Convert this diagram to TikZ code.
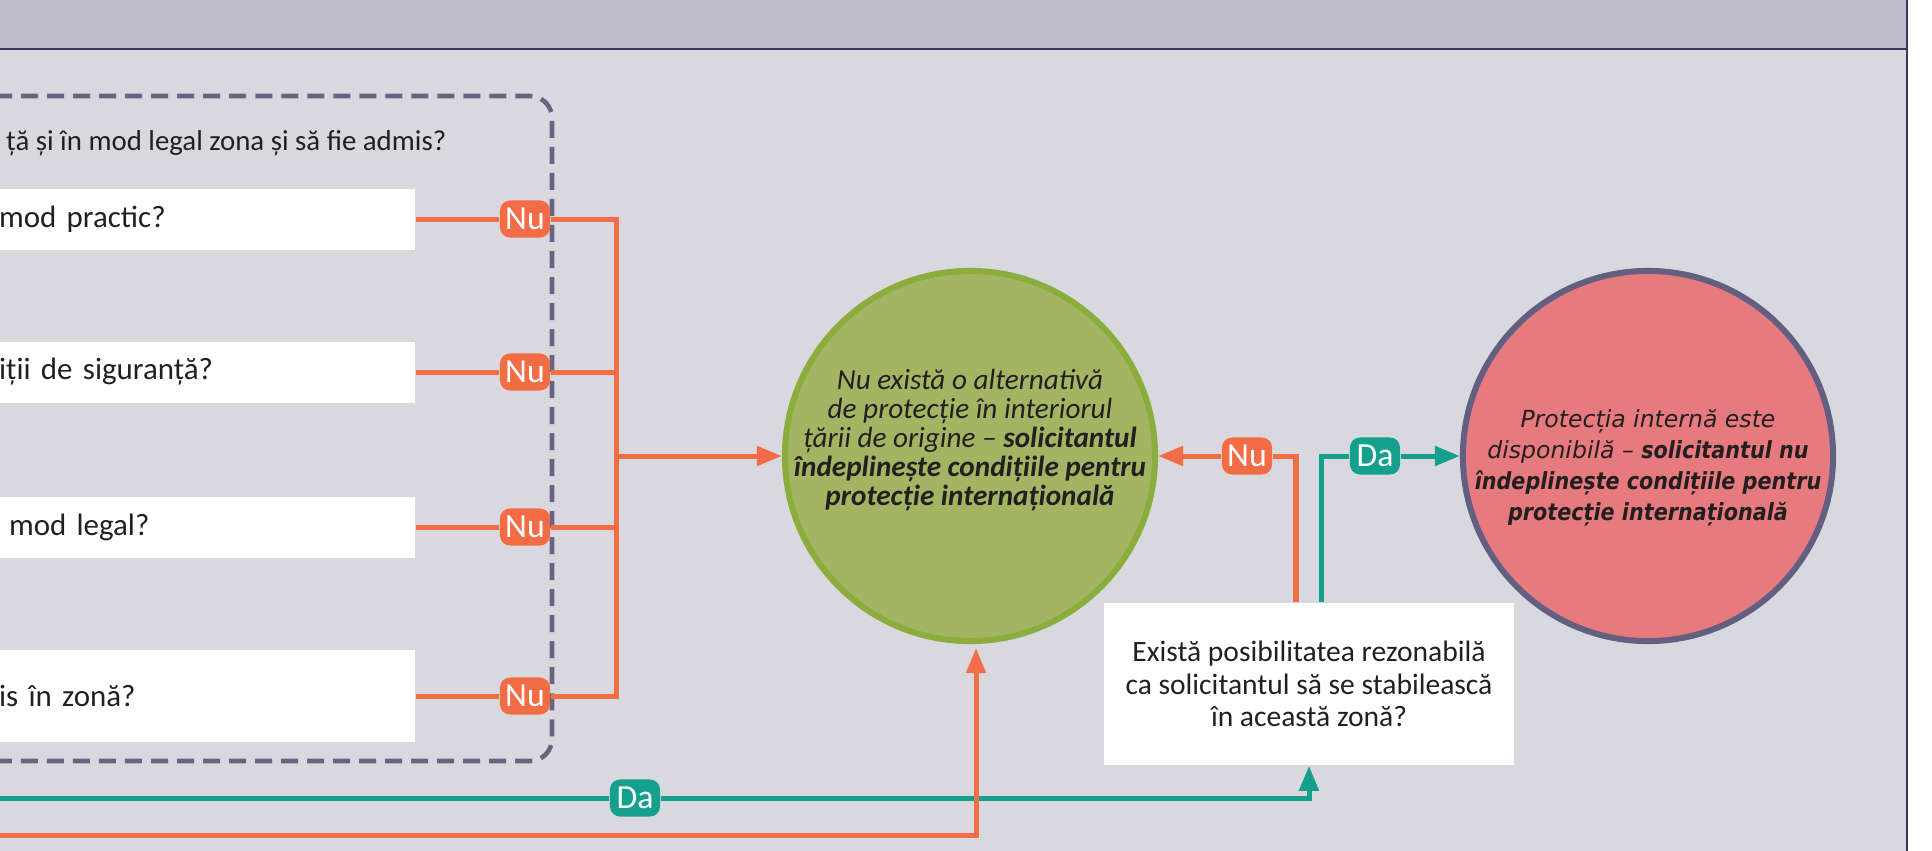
\documentclass[tikz,border=0pt]{standalone}
\usepackage{fontspec}
\setmainfont{Carlito}
\newfontfamily\widesans{DejaVu Sans}[BoldItalicFeatures={FakeStretch=0.88}]
\usetikzlibrary{arrows.meta}
\definecolor{headbg}{HTML}{BEBBCA}
\definecolor{bodybg}{HTML}{D9D8DF}
\definecolor{framec}{HTML}{3A3760}
\definecolor{dashc}{HTML}{666480}
\definecolor{nuorange}{HTML}{F26C45}
\definecolor{dateal}{HTML}{14A08C}
\definecolor{okgreen}{HTML}{A3B562}
\definecolor{okborder}{HTML}{8AAD3E}
\definecolor{nored}{HTML}{E77A7E}
\definecolor{noborder}{HTML}{626080}
\definecolor{ink}{HTML}{231F20}
\begin{document}
\begin{tikzpicture}[x=0.01cm, y=-0.01cm, text=ink,
  qbox/.style={fill=white, inner xsep=0pt, font=\fontsize{8.8}{10.5}\selectfont},
  badge/.style={fill=nuorange, text=white, rounded corners=0.1cm, minimum width=0.5cm, minimum height=0.37cm, inner sep=0pt, font=\fontsize{9.6}{10}\selectfont},
  dabadge/.style={badge, fill=dateal},
  nuline/.style={draw=nuorange, line width=0.05cm},
  daline/.style={draw=dateal, line width=0.05cm},
  arr/.style={-{Triangle[length=0.25cm, width=0.19cm]}},
  verdict/.style={circle, minimum size=3.70cm, line width=0.06cm}]
\useasboundingbox (0,0) rectangle (1932,851);
\clip (0,0) rectangle (1932,851);
\fill[bodybg] (-10,0) rectangle (1907,900);
\fill[headbg] (-10,0) rectangle (1907,49);
\draw[framec, line width=0.02cm] (-10,49) -- (1907,49) (1907,0) -- (1907,900);
\draw[dashc, line width=0.046cm, dash pattern=on 0.17cm off 0.09cm, rounded corners=0.22cm] (-100,96) rectangle (552,761);

\node[anchor=east, inner sep=0pt, font=\fontsize{8.2}{10.5}\selectfont] (reach) at (447,143) {ță și în mod legal zona și să fie admis?};

\foreach \y/\h/\t [count=\i] in {219/61/mod practic?, 372/61/iții de siguranță?, 527/61/{\hspace{0.1cm}mod legal?}, 696/92/is în zonă?}
{
\node[qbox, anchor=east, text width=4.16cm, align=left, minimum height=\h*0.01cm] (q\i) at (416,\y) {\t};
\node[badge] (n\i) at (525,\y) {Nu};
\coordinate (b\i) at (616,\y);
\draw[nuline] (q\i.east) -- (n\i.west);
}
\draw[nuline] (n1.east) -- (b1) -- (b4) -- (n4.east);
\draw[nuline] (n2.east) -- (b2) (n3.east) -- (b3);
\coordinate (bm) at (616,456);

\node[verdict, fill=okgreen, draw=okborder] (ok) at (970,456) {};
\node[align=center, font=\fontsize{8.3}{8.3}\selectfont\itshape] (oktext) at ([yshift=0.16cm]ok.center) {Nu există o alternativă\\ de protecție în interiorul\\ țării de origine – \textbf{solicitantul}\\ \textbf{îndeplinește condițiile pentru}\\ \textbf{protecție internațională}};
\node[verdict, fill=nored, draw=noborder] (no) at (1648,456) {};
\node[align=center, font=\fontsize{6.7}{8.8}\widesans\itshape] (notext) at ([yshift=-0.12cm]no.center) {Protecția internă este\\ disponibilă – \textbf{solicitantul nu}\\ \textbf{îndeplinește condițiile pentru}\\ \textbf{protecție internațională}};

\node[qbox, inner xsep=0.1cm, minimum width=4.1cm, minimum height=1.62cm, align=center, font=\fontsize{8.4}{9.3}\selectfont] (settle) at (1309,684) {Există posibilitatea rezonabilă\\ ca solicitantul să se stabilească\\ în această zonă?};

\draw[nuline, arr] (bm) -- (ok.west);

\node[badge] (nuB) at (1247,456) {Nu};
\node[dabadge] (daB) at (1375,456) {Da};
\draw[nuline] ([xshift=-0.13cm]settle.north) |- (nuB.east);
\draw[nuline, arr] (nuB.west) -- (ok.east);
\draw[daline] ([xshift=0.12cm]settle.north) |- (daB.west);
\draw[daline, arr] (daB.east) -- (no.west);

\coordinate (dain) at (-10,798);
\coordinate (nuin) at (-10,835);
\node[dabadge] (daC) at (635,798) {Da};
\draw[daline] (dain) -- (daC.west);
\draw[daline, arr] (daC.east) -| (settle.south);
\draw[nuline, arr] (nuin) -| ([xshift=0.06cm, yshift=-0.04cm]ok.south);
\end{tikzpicture}
\end{document}
